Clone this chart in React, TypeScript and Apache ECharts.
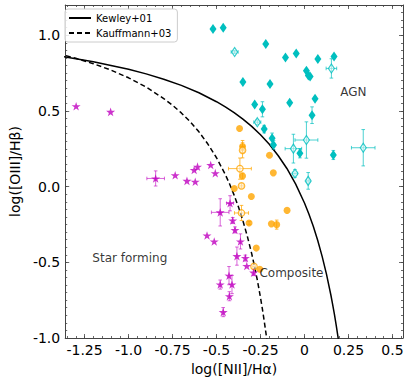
import React, { useEffect, useRef } from "react";
import * as echarts from "echarts";

// ---- axes ----
const X_MIN = -1.36;
const X_MAX = 0.56;
const Y_MIN = -1.0;
const Y_MAX = 1.2;
const X_TICKS = [-1.25, -1.0, -0.75, -0.5, -0.25, 0, 0.25, 0.5];
const X_TICK_LABELS = ["-1.25", "-1.0", "-0.75", "-0.5", "-0.25", "0", "0.25", "0.5"];
const Y_TICKS = [-1.0, -0.5, 0.0, 0.5, 1.0];
const Y_TICK_LABELS = ["-1.0", "-0.5", "0.0", "0.5", "1.0"];
const X_MINOR = [-1.35, -1.3, -1.25, -1.2, -1.15, -1.1, -1.05, -1.0, -0.95, -0.9, -0.85, -0.8, -0.75, -0.7, -0.65, -0.6, -0.55, -0.5, -0.45, -0.4, -0.35, -0.3, -0.25, -0.2, -0.15, -0.1, -0.05, 0, 0.05, 0.1, 0.15, 0.2, 0.25, 0.3, 0.35, 0.4, 0.45, 0.5, 0.55];
const Y_MINOR = [-1.0, -0.95, -0.9, -0.85, -0.8, -0.75, -0.7, -0.65, -0.6, -0.55, -0.5, -0.45, -0.4, -0.35, -0.3, -0.25, -0.2, -0.15, -0.1, -0.05, 0, 0.05, 0.1, 0.15, 0.2, 0.25, 0.3, 0.35, 0.4, 0.45, 0.5, 0.55, 0.6, 0.65, 0.7, 0.75, 0.8, 0.85, 0.9, 0.95, 1.0, 1.05, 1.1, 1.15, 1.2];

// ---- demarcation curves ----
const KEWLEY_X = [-1.4, -1.3, -1.2, -1.1, -1.0, -0.9, -0.8, -0.7, -0.6, -0.5, -0.45, -0.4, -0.35, -0.3, -0.25, -0.2, -0.15, -0.1, -0.05, 0.0, 0.025, 0.05, 0.075, 0.1, 0.125, 0.15, 0.16, 0.17, 0.18, 0.19, 0.2];
const KEWLEY_Y = [0.864, 0.845, 0.825, 0.801, 0.775, 0.745, 0.71, 0.669, 0.62, 0.561, 0.527, 0.489, 0.446, 0.398, 0.343, 0.28, 0.206, 0.12, 0.017, -0.108, -0.181, -0.262, -0.354, -0.459, -0.578, -0.716, -0.778, -0.843, -0.913, -0.989, -1.069];
const KAUFF_X = [-1.4, -1.3, -1.2, -1.1, -1.0, -0.9, -0.8, -0.75, -0.7, -0.65, -0.6, -0.55, -0.5, -0.45, -0.425, -0.4, -0.375, -0.35, -0.325, -0.3, -0.285, -0.27, -0.26, -0.25, -0.24, -0.23, -0.22, -0.21];
const KAUFF_Y = [0.879, 0.848, 0.812, 0.77, 0.719, 0.658, 0.582, 0.538, 0.487, 0.429, 0.362, 0.283, 0.191, 0.08, 0.016, -0.056, -0.135, -0.225, -0.327, -0.443, -0.521, -0.606, -0.668, -0.733, -0.803, -0.879, -0.959, -1.046];

// ---- AGN (cyan diamonds) ----
const AGN_FILLED_X = [-0.52, -0.462, -0.22, -0.108, -0.047, 0.076, 0.168, 0.011, 0.022, 0.032, -0.35, -0.196, 0.06, -0.084, -0.283, -0.239, 0.043, -0.229, -0.184, -0.176, -0.026, 0.164];
const AGN_FILLED_Y = [1.041, 1.05, 0.943, 0.853, 0.879, 0.844, 0.86, 0.765, 0.735, 0.728, 0.691, 0.678, 0.58, 0.555, 0.542, 0.511, 0.472, 0.38, 0.319, 0.275, 0.22, 0.209];
const AGN_FILLED_XERR = [0, 0, 0, 0, 0, 0, 0, 0, 0, 0, 0, 0, 0, 0, 0, 0, 0, 0, 0, 0, 0, 0];
const AGN_FILLED_YERR = [0, 0, 0, 0, 0, 0, 0, 0, 0, 0, 0, 0, 0.01, 0, 0, 0.05, 0.055, 0.025, 0.035, 0.03, 0.03, 0.03];
const AGN_OPEN_X = [-0.397, 0.153, -0.268, -0.063, 0.011, -0.054, 0.021, 0.334];
const AGN_OPEN_Y = [0.89, 0.781, 0.426, 0.251, 0.308, 0.087, 0.038, 0.257];
const AGN_OPEN_XERR = [0.02, 0.03, 0.02, 0.047, 0.065, 0.015, 0.01, 0.067];
const AGN_OPEN_YERR = [0.01, 0.064, 0.015, 0.095, 0.12, 0.025, 0.055, 0.12];

// ---- Composite (orange circles) ----
const COMP_FILLED_X = [-0.369, -0.352, -0.352, -0.399, -0.302, -0.315, -0.199, -0.177, -0.099, -0.188, -0.158, -0.274, -0.254];
const COMP_FILLED_Y = [0.384, 0.265, 0.07, -0.012, -0.065, -0.24, 0.207, 0.091, -0.157, -0.246, -0.251, -0.406, -0.546];
const COMP_FILLED_XERR = [0, 0.01, 0, 0, 0, 0, 0, 0, 0, 0, 0, 0, 0];
const COMP_FILLED_YERR = [0, 0.04, 0.02, 0, 0, 0.01, 0, 0, 0, 0, 0.03, 0, 0];
const COMP_OPEN_X = [-0.352, -0.367, -0.358, -0.358, -0.287];
const COMP_OPEN_Y = [0.24, 0.119, 0.005, -0.174, -0.527];
const COMP_OPEN_XERR = [0.01, 0.065, 0.01, 0.04, 0.01];
const COMP_OPEN_YERR = [0.05, 0.07, 0.015, 0.05, 0.015];

// ---- Star forming (magenta stars) ----
const SF_X = [-1.298, -1.102, -0.846, -0.735, -0.668, -0.621, -0.627, -0.608, -0.533, -0.507, -0.423, -0.479, -0.408, -0.395, -0.554, -0.513, -0.364, -0.384, -0.336, -0.328, -0.289, -0.479, -0.429, -0.412, -0.427, -0.462];
const SF_Y = [0.531, 0.494, 0.054, 0.075, 0.038, 0.032, 0.11, 0.132, 0.143, 0.089, -0.11, -0.17, -0.224, -0.286, -0.323, -0.362, -0.362, -0.459, -0.472, -0.524, -0.568, -0.647, -0.588, -0.647, -0.724, -0.829];
const SF_XERR = [0, 0, 0.05, 0, 0, 0, 0, 0, 0, 0, 0.02, 0.05, 0, 0, 0, 0, 0, 0, 0, 0, 0, 0, 0, 0, 0, 0];
const SF_YERR = [0, 0, 0.05, 0, 0, 0, 0, 0, 0, 0, 0.05, 0.09, 0.02, 0.02, 0, 0, 0.05, 0.06, 0.02, 0, 0.02, 0.03, 0.06, 0.06, 0.03, 0.03];

// ---- region labels ----
const REGION_TEXT = ["AGN", "Star forming", "Composite"];
const REGION_X = [0.203, -1.206, -0.256];
const REGION_Y = [0.627, -0.472, -0.57];

const CYAN = "#00bfbf";
const ORANGE = "#ffa500";
const MAGENTA = "#bf00bf";
const FONT = "DejaVu Sans";

const STAR = "path://M0,-10 L2.24,-3.08 L9.51,-3.09 L3.62,1.18 L5.88,8.09 L0,3.81 L-5.88,8.09 L-3.62,1.18 L-9.51,-3.09 L-2.24,-3.08 Z";

const zip2 = (a: number[], b: number[]) => a.map((v, i) => [v, b[i]]);
const zip4 = (a: number[], b: number[], c: number[], d: number[]) => a.map((v, i) => [v, b[i], c[i], d[i]]);

function errRender(color: string) {
  return (_params: any, api: any) => {
    const x = api.value(0);
    const y = api.value(1);
    const xe = api.value(2);
    const ye = api.value(3);
    const c = api.coord([x, y]);
    const style = { stroke: color, lineWidth: 1 };
    const cap = 1.8;
    const children: any[] = [];
    if (xe > 0) {
      const l = api.coord([x - xe, y]);
      const r = api.coord([x + xe, y]);
      children.push({ type: "line", shape: { x1: l[0], y1: c[1], x2: r[0], y2: c[1] }, style });
      children.push({ type: "line", shape: { x1: l[0], y1: c[1] - cap, x2: l[0], y2: c[1] + cap }, style });
      children.push({ type: "line", shape: { x1: r[0], y1: c[1] - cap, x2: r[0], y2: c[1] + cap }, style });
    }
    if (ye > 0) {
      const t = api.coord([x, y + ye]);
      const b = api.coord([x, y - ye]);
      children.push({ type: "line", shape: { x1: c[0], y1: t[1], x2: c[0], y2: b[1] }, style });
      children.push({ type: "line", shape: { x1: c[0] - cap, y1: t[1], x2: c[0] + cap, y2: t[1] }, style });
      children.push({ type: "line", shape: { x1: c[0] - cap, y1: b[1], x2: c[0] + cap, y2: b[1] }, style });
    }
    return { type: "group", children };
  };
}

function errSeries(data: number[][], color: string) {
  return {
    type: "custom",
    renderItem: errRender(color),
    data,
    encode: { x: 0, y: 1 },
    z: 1,
    silent: true,
  };
}

export default function App() {
  const ref = useRef<HTMLDivElement>(null);
  useEffect(() => {
    if (!ref.current) return;
    const chart = echarts.init(ref.current, null, { renderer: "svg" });
    const axisColor = "#444";
    const xAx = (position: string, values: number[], len: number, main: boolean, line: boolean) => ({
      type: "value",
      position,
      min: X_MIN,
      max: X_MAX,
      axisLine: { show: line, onZero: false, lineStyle: { color: axisColor, width: 1 } },
      axisTick: { show: true, inside: true, length: len, customValues: values, lineStyle: { color: axisColor, width: 0.8 } },
      axisLabel: main
        ? {
            show: true,
            customValues: X_TICKS,
            formatter: (v: number) => {
              const i = X_TICKS.findIndex((t) => Math.abs(t - v) < 1e-6);
              return i >= 0 ? X_TICK_LABELS[i] : "";
            },
            fontSize: 14,
            fontFamily: FONT,
            color: "#000",
            margin: 5,
          }
        : { show: false },
      splitLine: { show: false },
      name: main ? "log([NII]/Hα)" : "",
      nameLocation: "middle",
      nameGap: 22,
      nameTextStyle: { fontSize: 14, fontFamily: FONT, color: "#000" },
    });
    const yAx = (position: string, values: number[], len: number, main: boolean, line: boolean) => ({
      type: "value",
      position,
      min: Y_MIN,
      max: Y_MAX,
      axisLine: { show: line, onZero: false, lineStyle: { color: axisColor, width: 1 } },
      axisTick: { show: true, inside: true, length: len, customValues: values, lineStyle: { color: axisColor, width: 0.8 } },
      axisLabel: main
        ? {
            show: true,
            customValues: Y_TICKS,
            formatter: (v: number) => {
              const i = Y_TICKS.findIndex((t) => Math.abs(t - v) < 1e-6);
              return i >= 0 ? Y_TICK_LABELS[i] : "";
            },
            fontSize: 14,
            fontFamily: FONT,
            color: "#000",
            margin: 5,
          }
        : { show: false },
      splitLine: { show: false },
      name: main ? "log([OIII]/Hβ)" : "",
      nameLocation: "middle",
      nameGap: 40,
      nameTextStyle: { fontSize: 14, fontFamily: FONT, color: "#000" },
    });

    chart.setOption({
      animation: false,
      backgroundColor: "#fff",
      textStyle: { fontFamily: FONT },
      grid: { left: 60, right: 8, top: 5, bottom: 46, containLabel: false },
      xAxis: [
        xAx("bottom", X_TICKS, 4, true, true),
        xAx("bottom", X_MINOR, 2, false, false),
        xAx("top", X_TICKS, 4, false, true),
        xAx("top", X_MINOR, 2, false, false),
      ],
      yAxis: [
        yAx("left", Y_TICKS, 4, true, true),
        yAx("left", Y_MINOR, 2, false, false),
        yAx("right", Y_TICKS, 4, false, true),
        yAx("right", Y_MINOR, 2, false, false),
      ],
      legend: {
        data: ["Kewley+01", "Kauffmann+03"],
        orient: "vertical",
        left: 65,
        top: 9,
        backgroundColor: "rgba(255,255,255,0.85)",
        borderColor: "#cccccc",
        borderWidth: 1,
        borderRadius: 3,
        padding: [4, 6, 4, 3],
        itemWidth: 22,
        itemHeight: 10,
        itemGap: 5,
        itemStyle: { opacity: 0 },
        textStyle: { fontSize: 10, fontFamily: FONT, color: "#000" },
      },
      series: [
        {
          name: "Kewley+01",
          type: "line",
          data: zip2(KEWLEY_X, KEWLEY_Y),
          symbol: "none",
          showSymbol: false,
          lineStyle: { color: "#000", width: 1.5, type: "solid" },
          itemStyle: { color: "#000" },
          z: 2,
        },
        {
          name: "Kauffmann+03",
          type: "line",
          data: zip2(KAUFF_X, KAUFF_Y),
          symbol: "none",
          showSymbol: false,
          lineStyle: { color: "#000", width: 1.5, type: [5, 3] },
          itemStyle: { color: "#000" },
          z: 2,
        },
        errSeries(zip4(AGN_FILLED_X, AGN_FILLED_Y, AGN_FILLED_XERR, AGN_FILLED_YERR), "rgba(0,191,191,0.7)"),
        errSeries(zip4(AGN_OPEN_X, AGN_OPEN_Y, AGN_OPEN_XERR, AGN_OPEN_YERR), "rgba(0,191,191,0.7)"),
        errSeries(zip4(COMP_FILLED_X, COMP_FILLED_Y, COMP_FILLED_XERR, COMP_FILLED_YERR), "rgba(255,165,0,0.75)"),
        errSeries(zip4(COMP_OPEN_X, COMP_OPEN_Y, COMP_OPEN_XERR, COMP_OPEN_YERR), "rgba(255,165,0,0.75)"),
        errSeries(zip4(SF_X, SF_Y, SF_XERR, SF_YERR), "rgba(191,0,191,0.6)"),
        {
          name: "AGN",
          type: "scatter",
          data: zip2(AGN_FILLED_X, AGN_FILLED_Y),
          symbol: "diamond",
          symbolSize: [7, 10],
          itemStyle: { color: CYAN, opacity: 1 },
          z: 3,
        },
        {
          name: "AGN open",
          type: "scatter",
          data: zip2(AGN_OPEN_X, AGN_OPEN_Y),
          symbol: "diamond",
          symbolSize: [6, 9],
          itemStyle: { color: "rgba(255,255,255,0.6)", borderColor: CYAN, borderWidth: 1.2 },
          z: 3,
        },
        {
          name: "Composite",
          type: "scatter",
          data: zip2(COMP_FILLED_X, COMP_FILLED_Y),
          symbol: "circle",
          symbolSize: 7,
          itemStyle: { color: ORANGE },
          z: 3,
        },
        {
          name: "Composite open",
          type: "scatter",
          data: zip2(COMP_OPEN_X, COMP_OPEN_Y),
          symbol: "circle",
          symbolSize: 6.5,
          itemStyle: { color: "rgba(255,255,255,0.6)", borderColor: ORANGE, borderWidth: 1.2 },
          z: 3,
        },
        {
          name: "SF",
          type: "scatter",
          data: zip2(SF_X, SF_Y),
          symbol: STAR,
          symbolSize: [9, 8.6],
          itemStyle: { color: MAGENTA },
          z: 3,
        },
        {
          name: "labels",
          type: "scatter",
          data: REGION_X.map((x, i) => [x, REGION_Y[i], REGION_TEXT[i]]),
          symbolSize: 0,
          silent: true,
          label: {
            show: true,
            position: "right",
            distance: 0,
            formatter: (p: any) => p.data[2],
            fontSize: 12,
            fontFamily: FONT,
            color: "#000",
          },
          z: 4,
        },
      ],
    });
    return () => chart.dispose();
  }, []);
  return <div ref={ref} style={{ width: 411, height: 384, position: "absolute", left: 0, top: 0 }} />;
}
